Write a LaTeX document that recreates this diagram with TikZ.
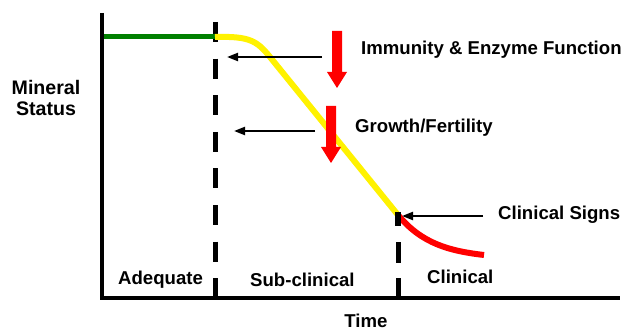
\documentclass[tikz,border=0pt]{standalone}
\usepackage{fontspec}
\setmainfont{Liberation Sans}
\usetikzlibrary{arrows.meta}
\begin{document}
\begin{tikzpicture}[x=1pt,y=-1pt,
  lbl/.style={font=\fontsize{18.6}{20}\selectfont\bfseries, inner sep=0pt, anchor=west},
  axis/.style={line width=4pt},
  divider/.style={line width=5pt, dash pattern=on 20pt off 16.6pt},
  pointer/.style={line width=2.2pt, -{Triangle[length=11pt,width=8pt]}},
  drop/.style={fill=red, draw=none}]
\useasboundingbox (0,0) rectangle (623,331);
% axes
\coordinate (top) at (102,13);
\coordinate (origin) at (102,298);
\coordinate (xend) at (620,298);
\draw[axis] (top) -- (origin) -- (xend);
% dividers
\coordinate (d1top) at (215,22);
\coordinate (d1bot) at (215,298);
\draw[divider] (d1top) -- (d1bot);
\coordinate (d2top) at (398,212);
\coordinate (d2bot) at (398,298);
\draw[line width=5pt, dash pattern=on 14pt off 16pt on 21pt off 15pt on 20pt off 5pt] (d2top) -- (d2bot);
% curves
\coordinate (g0) at (104,37);
\coordinate (g1) at (215,37);
\draw[line width=5pt, green!50!black] (g0) -- (g1);
\coordinate (y1) at (270,57);
\coordinate (y2) at (398,215);
\draw[line width=6pt, yellow] (g1) .. controls (250,36) and (257,41) .. (y1) -- (y2);
\coordinate (r1) at (484,255);
\draw[line width=6pt, red] (y2) .. controls (422,244) and (450,251) .. (r1);
\fill (395,212) rectangle (401,226);
% red arrows
\fill[drop] (332,31) -- (342,31) -- (342,72) -- (347,72) -- (337,88) -- (327,72) -- (332,72) -- cycle;
\fill[drop] (326,106) -- (336,106) -- (336,147) -- (341,147) -- (331,163) -- (321,147) -- (326,147) -- cycle;
% labels
\node[lbl] (imm) at (361,50) {Immunity \& Enzyme Function};
\node[lbl] (gro) at (355,128) {Growth/Fertility};
\node[lbl] (cs) at (498,215) {Clinical Signs};
\node[lbl] (adq) at (118,280) {Adequate};
\node[lbl] (sub) at (250,280) {Sub-clinical};
\node[lbl] (cli) at (427,277) {Clinical};
\node[font=\fontsize{18.6}{20}\selectfont\bfseries, inner sep=0pt] (time) at (366,320.5) {Time};
\node[font=\fontsize{19.6}{20.5}\selectfont\bfseries, inner sep=0pt, align=center] (ms) at (46,98) {Mineral\\Status};
% pointers
\coordinate (p1s) at (322,57);
\coordinate (p1e) at (227,57);
\draw[pointer] (p1s) -- (p1e);
\coordinate (p2s) at (315,131);
\coordinate (p2e) at (234,131);
\draw[pointer] (p2s) -- (p2e);
\coordinate (p3s) at (483,216);
\coordinate (p3e) at (402,216);
\draw[pointer] (p3s) -- (p3e);
\end{tikzpicture}
\end{document}
